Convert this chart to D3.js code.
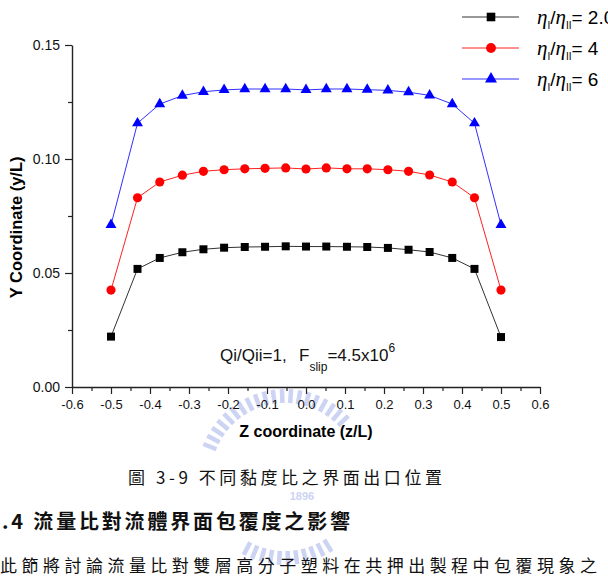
<!DOCTYPE html>
<html>
<head>
<meta charset="utf-8">
<script src="https://cdn.jsdelivr.net/npm/d3@7"></script>
<style>
  body { margin: 0; background: #fff; }
  svg { display: block; }
</style>
</head>
<body>
<script>
// values (z/L and y/L)
const zPositions = [-0.5, -0.432, -0.375, -0.317, -0.263, -0.21, -0.157, -0.105, -0.052, 0,
                    0.052, 0.105, 0.157, 0.21, 0.263, 0.317, 0.375, 0.432, 0.5];
const ratio2 = [0.0221, 0.0518, 0.0566, 0.0591, 0.0604, 0.0611, 0.0614, 0.0615, 0.0617, 0.0616,
                0.0616, 0.0615, 0.0614, 0.0610, 0.0602, 0.0592, 0.0566, 0.0518, 0.0219];
const ratio4 = [0.0425, 0.0830, 0.0899, 0.0929, 0.0946, 0.0953, 0.0957, 0.0959, 0.0961, 0.0956,
                0.0961, 0.0957, 0.0957, 0.0953, 0.0946, 0.0930, 0.0899, 0.0830, 0.0425];
const ratio6 = [0.0711, 0.1157, 0.1241, 0.1278, 0.1295, 0.1303, 0.1307, 0.1307, 0.1307, 0.1303,
                0.1307, 0.1307, 0.1304, 0.1301, 0.1293, 0.1279, 0.1241, 0.1157, 0.0711];
const seriesNames = ["2.0", "4", "6"];

const xTicks = [-0.6, -0.5, -0.4, -0.3, -0.2, -0.1, 0, 0.1, 0.2, 0.3, 0.4, 0.5, 0.6];
const xTickLabels = ["-0.6", "-0.5", "-0.4", "-0.3", "-0.2", "-0.1", "0.0", "0.1", "0.2", "0.3", "0.4", "0.5", "0.6"];
const xMinor = [-0.55, -0.45, -0.35, -0.25, -0.15, -0.05, 0.05, 0.15, 0.25, 0.35, 0.45, 0.55];
const yTicks = [0, 0.05, 0.10, 0.15];
const yTickLabels = ["0.00", "0.05", "0.10", "0.15"];
const yMinor = [0.025, 0.075, 0.125];

const series = [
  {name: seriesNames[0], values: ratio2, color: "#000", line: "#333", shape: d3.symbolSquare, size: 64},
  {name: seriesNames[1], values: ratio4, color: "#ff0000", line: "#ff2020", shape: d3.symbolCircle, size: 66},
  {name: seriesNames[2], values: ratio6, color: "#0000ff", line: "#3030ff", shape: d3.symbolTriangle, size: 52}
];

let svg = null;
let x, y = null;

appendSvg("body");
drawWatermark();
setupScales();
appendAxes();
appendSeries();
appendLegend();
appendNotes();
appendPageText();

function appendSvg(domElement) {
  svg = d3.select(domElement).append("svg")
    .attr("width", 608)
    .attr("height", 582)
    .style("font-family", "'Liberation Sans', Arial, sans-serif");
}

function setupScales() {
  x = d3.scaleLinear().domain([-0.6, 0.6]).range([72, 540]);
  y = d3.scaleLinear().domain([0, 0.15]).range([387, 45]);
}

function appendAxes() {
  // bottom axis, major + minor ticks pointing out
  svg.append("g")
    .attr("transform", `translate(0, ${y(0)})`)
    .call(d3.axisBottom(x).tickValues(xMinor).tickSize(4).tickFormat(""))
    .call(g => g.select(".domain").remove())
    .selectAll("line").attr("stroke", "#222").attr("stroke-width", 1.2);

  const xa = svg.append("g")
    .attr("transform", `translate(0, ${y(0)})`)
    .call(d3.axisBottom(x).tickValues(xTicks).tickSize(7).tickSizeOuter(0).tickPadding(6)
      .tickFormat((d, i) => xTickLabels[i]));
  xa.select(".domain").attr("stroke", "#222").attr("stroke-width", 1.4);
  xa.selectAll("line").attr("stroke", "#222").attr("stroke-width", 1.2);
  xa.selectAll("text").attr("font-size", 13).attr("fill", "#111")
    .attr("font-family", "'Liberation Sans', Arial, sans-serif");

  svg.append("g")
    .attr("transform", `translate(${x(-0.6)}, 0)`)
    .call(d3.axisLeft(y).tickValues(yMinor).tickSize(4).tickFormat(""))
    .call(g => g.select(".domain").remove())
    .selectAll("line").attr("stroke", "#222").attr("stroke-width", 1.2);

  const ya = svg.append("g")
    .attr("transform", `translate(${x(-0.6)}, 0)`)
    .call(d3.axisLeft(y).tickValues(yTicks).tickSize(7).tickSizeOuter(0).tickPadding(5)
      .tickFormat((d, i) => yTickLabels[i]));
  ya.select(".domain").attr("stroke", "#222").attr("stroke-width", 1.4);
  ya.selectAll("line").attr("stroke", "#222").attr("stroke-width", 1.2);
  ya.selectAll("text").attr("font-size", 14).attr("fill", "#111")
    .attr("font-family", "'Liberation Sans', Arial, sans-serif");

  svg.append("text")
    .attr("x", x(0))
    .attr("y", 437)
    .attr("text-anchor", "middle")
    .attr("font-size", 16)
    .attr("font-weight", "bold")
    .text("Z coordinate (z/L)");

  svg.append("text")
    .attr("transform", `translate(22, ${y(0.07)}) rotate(-90)`)
    .attr("text-anchor", "middle")
    .attr("font-size", 16.5)
    .attr("font-weight", "bold")
    .text("Y Coordinate (y/L)");
}

function appendSeries() {
  const line = d3.line()
    .x((d, i) => x(zPositions[i]))
    .y(d => y(d));

  series.forEach(s => {
    svg.append("path")
      .datum(s.values)
      .attr("fill", "none")
      .attr("stroke", s.line)
      .attr("stroke-width", 1)
      .attr("d", line);

    svg.append("g").selectAll("path")
      .data(s.values)
      .enter()
      .append("path")
      .attr("transform", (d, i) => `translate(${x(zPositions[i])}, ${y(d)})`)
      .attr("d", d3.symbol().type(s.shape).size(s.size))
      .attr("fill", s.color);
  });
}

function appendLegend() {
  const legend = svg.append("g").attr("class", "legend");
  series.forEach((s, i) => {
    const ly = 17 + i * 31;
    legend.append("line")
      .attr("x1", 462).attr("x2", 519)
      .attr("y1", ly).attr("y2", ly)
      .attr("stroke", s.line).attr("stroke-width", 1);
    legend.append("path")
      .attr("transform", `translate(491, ${ly})`)
      .attr("d", d3.symbol().type(s.shape).size(s.size + 10))
      .attr("fill", s.color);

    const t = legend.append("text")
      .attr("x", 537)
      .attr("y", ly + 7)
      .attr("font-size", 19);
    t.append("tspan").attr("font-family", "'Liberation Serif', serif")
      .attr("font-style", "italic").attr("font-size", 21).text("η");
    t.append("tspan").attr("font-size", 10).attr("dy", 5).text("I");
    t.append("tspan").attr("dy", -5).text("/");
    t.append("tspan").attr("font-family", "'Liberation Serif', serif")
      .attr("font-style", "italic").attr("font-size", 21).text("η");
    t.append("tspan").attr("font-size", 10).attr("dy", 5).text("II");
    t.append("tspan").attr("dy", -5).text("= " + s.name);
  });
}

function appendNotes() {
  const t = svg.append("text")
    .attr("x", 220)
    .attr("y", 361)
    .attr("font-size", 17)
    .attr("fill", "#111");
  t.append("tspan").text("Qi/Qii=1,");
  t.append("tspan").attr("x", 299).text("F");
  t.append("tspan").attr("font-size", 12).attr("dy", 10).text("slip");
  t.append("tspan").attr("dy", -10).text("=4.5x10");
  t.append("tspan").attr("font-size", 12).attr("dy", -9).text("6");
}

function drawWatermark() {
  // faint university logo behind the caption
  const wm = svg.append("g").attr("fill", "#ccd3f3").attr("stroke", "#ccd3f3");
  const cx = 285, cy = 477;
  const arcs = [[-158, -42], [58, 122]];
  arcs.forEach(a => {
    for (let ang = a[0]; ang <= a[1]; ang += 6) {
      const r = ang * Math.PI / 180;
      wm.append("line")
        .attr("x1", cx + 74 * Math.cos(r)).attr("y1", cy + 74 * Math.sin(r))
        .attr("x2", cx + 88 * Math.cos(r)).attr("y2", cy + 88 * Math.sin(r))
        .attr("stroke-width", 4.5);
    }
  });
  wm.append("text")
    .attr("x", 302).attr("y", 500)
    .attr("text-anchor", "middle")
    .attr("stroke", "none")
    .attr("font-size", 11)
    .attr("font-weight", "bold")
    .text("1896");
}

function appendPageText() {
  const cjk = "'Noto Sans CJK TC', 'Noto Sans CJK SC', sans-serif";
  svg.append("text")
    .attr("x", 128).attr("y", 484)
    .attr("font-family", cjk)
    .attr("font-size", 17)
    .attr("textLength", 314)
    .attr("lengthAdjust", "spacing")
    .attr("fill", "#111")
    .text("圖 3-9  不同黏度比之界面出口位置");

  svg.append("text")
    .attr("x", 2).attr("y", 529)
    .attr("font-family", cjk)
    .attr("font-size", 20)
    .attr("font-weight", "bold")
    .attr("textLength", 348)
    .attr("lengthAdjust", "spacing")
    .attr("fill", "#111")
    .text(".4 流量比對流體界面包覆度之影響");

  svg.append("text")
    .attr("x", 0).attr("y", 572)
    .attr("font-family", cjk)
    .attr("font-size", 17)
    .attr("textLength", 597)
    .attr("lengthAdjust", "spacing")
    .attr("fill", "#111")
    .text("此節將討論流量比對雙層高分子塑料在共押出製程中包覆現象之");
}
</script>
</body>
</html>
